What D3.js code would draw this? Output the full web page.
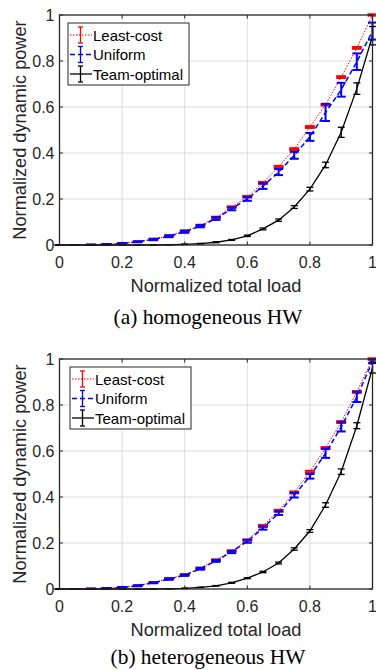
<!DOCTYPE html>
<html lang="en">

<head>
    <meta charset="UTF-8">
    <title>Normalized dynamic power</title>
    <script src="https://d3js.org/d3.v7.min.js"></script>
    <style>
        body {
            margin: 0;
            background: white;
        }

        .tick-label {
            font-family: "Liberation Sans", Arial, sans-serif;
            font-size: 16px;
            fill: #262626;
        }

        .axis-label {
            font-family: "Liberation Sans", Arial, sans-serif;
            font-size: 18.2px;
            fill: #262626;
        }

        .legend-label {
            font-family: "Liberation Sans", Arial, sans-serif;
            font-size: 15px;
            fill: #000;
        }

        .caption {
            font-family: "Liberation Serif", "Times New Roman", serif;
            font-size: 21.4px;
            fill: #000;
        }
    </style>
</head>

<body>
    <div id="chart"></div>

    <script>
        /*------------------- Data --------------------*/
        const loads = [0, 0.05, 0.1, 0.15, 0.2, 0.25, 0.3, 0.35, 0.4, 0.45, 0.5,
            0.55, 0.6, 0.65, 0.7, 0.75, 0.8, 0.85, 0.9, 0.95, 1];
        const xTicks = [0, 0.2, 0.4, 0.6, 0.8, 1];
        const yTicks = [0, 0.2, 0.4, 0.6, 0.8, 1];
        const tickLabels = ["0", "0.2", "0.4", "0.6", "0.8", "1"];
        const seriesNames = ["Least-cost", "Uniform", "Team-optimal"];

        // (a) homogeneous HW
        const leastA = [0, 0, 0.001, 0.003, 0.007, 0.015, 0.025, 0.04, 0.06, 0.085, 0.12,
            0.165, 0.21, 0.27, 0.34, 0.417, 0.513, 0.61, 0.73, 0.857, 1.0];
        const leastAErr = [0, 0, 0, 0, 0.001, 0.001, 0.002, 0.002, 0.002, 0.003, 0.003,
            0.003, 0.003, 0.004, 0.004, 0.004, 0.004, 0.004, 0.004, 0.004, 0.003];
        const uniformA = [0, 0, 0.001, 0.003, 0.007, 0.014, 0.024, 0.038, 0.058, 0.082, 0.115,
            0.157, 0.2, 0.256, 0.317, 0.39, 0.47, 0.576, 0.675, 0.797, 0.93];
        const uniformAErr = [0, 0, 0, 0.001, 0.001, 0.002, 0.003, 0.004, 0.005, 0.005, 0.006,
            0.006, 0.008, 0.012, 0.013, 0.015, 0.017, 0.037, 0.03, 0.036, 0.037];
        const teamA = [0, 0, 0, 0, 0, 0, 0, 0.001, 0.003, 0.006, 0.012,
            0.022, 0.04, 0.07, 0.108, 0.165, 0.243, 0.348, 0.49, 0.68, 0.91];
        const teamAErr = [0, 0, 0, 0, 0, 0, 0, 0, 0.001, 0.001, 0.002,
            0.002, 0.003, 0.004, 0.005, 0.006, 0.008, 0.012, 0.022, 0.025, 0.04];

        // (b) heterogeneous HW
        const leastB = [0, 0, 0.001, 0.003, 0.007, 0.015, 0.028, 0.045, 0.062, 0.09, 0.126,
            0.165, 0.213, 0.274, 0.34, 0.42, 0.51, 0.613, 0.726, 0.857, 1.0];
        const leastBErr = [0, 0, 0, 0, 0.001, 0.001, 0.002, 0.002, 0.002, 0.003, 0.003,
            0.003, 0.003, 0.004, 0.004, 0.004, 0.004, 0.004, 0.004, 0.004, 0.003];
        const uniformB = [0, 0, 0.001, 0.003, 0.007, 0.014, 0.027, 0.043, 0.06, 0.088, 0.122,
            0.161, 0.207, 0.265, 0.33, 0.408, 0.49, 0.59, 0.705, 0.835, 0.99];
        const uniformBErr = [0, 0, 0, 0.001, 0.001, 0.002, 0.002, 0.003, 0.003, 0.004, 0.004,
            0.005, 0.006, 0.007, 0.008, 0.01, 0.01, 0.02, 0.02, 0.022, 0.008];
        const teamB = [0, 0, 0, 0, 0, 0, 0, 0.001, 0.003, 0.007, 0.014,
            0.027, 0.047, 0.074, 0.113, 0.174, 0.252, 0.365, 0.51, 0.71, 0.963];
        const teamBErr = [0, 0, 0, 0, 0, 0, 0, 0, 0.001, 0.001, 0.001,
            0.002, 0.002, 0.003, 0.004, 0.005, 0.006, 0.01, 0.012, 0.013, 0.024];

        /*------------------- Styles --------------------*/
        const seriesStyles = [
            { color: "#ff0000", width: 1, dash: "1.5,1.5", barWidth: 2, cap: 5 },
            { color: "#0000ff", width: 1.5, dash: "5,3", barWidth: 2, cap: 4.5 },
            { color: "#000000", width: 1.3, dash: null, barWidth: 1.3, cap: 3.5 }
        ];

        const svgWidth = 376;
        const svgHeight = 670;

        const svg = d3.select("#chart").append("svg")
            .attr("width", svgWidth)
            .attr("height", svgHeight);

        const panels = [
            {
                top: 15, caption: "(a) homogeneous HW", captionY: 324, legendX: 68,
                series: [[leastA, leastAErr], [uniformA, uniformAErr], [teamA, teamAErr]]
            },
            {
                top: 359, caption: "(b) heterogeneous HW", captionY: 664, legendX: 70,
                series: [[leastB, leastBErr], [uniformB, uniformBErr], [teamB, teamBErr]]
            }
        ];

        const left = 59.5, right = 372.5, plotH = 230;

        function drawPanel(p) {
            const x = d3.scaleLinear().domain([0, 1]).range([left, right]);
            const y = d3.scaleLinear().domain([0, 1]).range([p.top + plotH, p.top]);
            const g = svg.append("g");

            // grid
            g.selectAll(".gx").data(xTicks.slice(1, -1)).enter().append("line")
                .attr("x1", d => x(d)).attr("x2", d => x(d))
                .attr("y1", y(0)).attr("y2", y(1))
                .attr("stroke", "#dcdcdc").attr("stroke-width", 1);
            g.selectAll(".gy").data(yTicks.slice(1, -1)).enter().append("line")
                .attr("x1", x(0)).attr("x2", x(1))
                .attr("y1", d => y(d)).attr("y2", d => y(d))
                .attr("stroke", "#dcdcdc").attr("stroke-width", 1);

            // series
            p.series.forEach((s, i) => {
                const st = seriesStyles[i];
                const vals = s[0], errs = s[1];
                const pts = loads.map((l, k) => ({ x: l, y: vals[k], e: errs[k] }));
                const line = d3.line().x(d => x(d.x)).y(d => y(d.y));
                g.append("path")
                    .datum(pts)
                    .attr("d", line)
                    .attr("fill", "none")
                    .attr("stroke", st.color)
                    .attr("stroke-width", st.width)
                    .attr("stroke-dasharray", st.dash);

                const bars = g.append("g")
                    .attr("stroke", st.color)
                    .attr("stroke-width", st.barWidth);
                bars.selectAll(".v").data(pts).enter().append("line")
                    .attr("x1", d => x(d.x)).attr("x2", d => x(d.x))
                    .attr("y1", d => y(d.y - d.e)).attr("y2", d => y(d.y + d.e));
                bars.selectAll(".ct").data(pts).enter().append("line")
                    .attr("x1", d => x(d.x) - st.cap).attr("x2", d => x(d.x) + st.cap)
                    .attr("y1", d => y(d.y + d.e)).attr("y2", d => y(d.y + d.e));
                bars.selectAll(".cb").data(pts).enter().append("line")
                    .attr("x1", d => x(d.x) - st.cap).attr("x2", d => x(d.x) + st.cap)
                    .attr("y1", d => y(d.y - d.e)).attr("y2", d => y(d.y - d.e));
            });

            // axes box and inward ticks
            g.append("rect")
                .attr("x", x(0)).attr("y", y(1))
                .attr("width", x(1) - x(0)).attr("height", y(0) - y(1))
                .attr("fill", "none").attr("stroke", "#262626").attr("stroke-width", 1.3);

            const tl = 3.5;
            xTicks.forEach(t => {
                g.append("line").attr("x1", x(t)).attr("x2", x(t))
                    .attr("y1", y(0)).attr("y2", y(0) - tl).attr("stroke", "#262626");
                g.append("line").attr("x1", x(t)).attr("x2", x(t))
                    .attr("y1", y(1)).attr("y2", y(1) + tl).attr("stroke", "#262626");
            });
            yTicks.forEach(t => {
                g.append("line").attr("x1", x(0)).attr("x2", x(0) + tl)
                    .attr("y1", y(t)).attr("y2", y(t)).attr("stroke", "#262626");
                g.append("line").attr("x1", x(1)).attr("x2", x(1) - tl)
                    .attr("y1", y(t)).attr("y2", y(t)).attr("stroke", "#262626");
            });

            // tick labels
            g.selectAll(".xl").data(xTicks).enter().append("text")
                .attr("class", "tick-label")
                .attr("x", d => x(d)).attr("y", y(0) + 23)
                .attr("text-anchor", "middle")
                .text((d, i) => tickLabels[i]);
            g.selectAll(".yl").data(yTicks).enter().append("text")
                .attr("class", "tick-label")
                .attr("x", x(0) - 5).attr("y", d => y(d) + 6)
                .attr("text-anchor", "end")
                .text((d, i) => tickLabels[i]);

            // axis labels
            g.append("text").attr("class", "axis-label")
                .attr("x", (x(0) + x(1)) / 2).attr("y", y(0) + 47)
                .attr("text-anchor", "middle")
                .text("Normalized total load");
            g.append("text").attr("class", "axis-label")
                .attr("transform", `translate(26,${(y(0) + y(1)) / 2}) rotate(-90)`)
                .attr("text-anchor", "middle")
                .text("Normalized dynamic power");

            // caption
            g.append("text").attr("class", "caption")
                .attr("x", 208).attr("y", p.captionY)
                .attr("text-anchor", "middle")
                .text(p.caption);

            // legend
            const lg = g.append("g").attr("transform", `translate(${p.legendX},${p.top + 8})`);
            lg.append("rect")
                .attr("width", 121).attr("height", 62)
                .attr("fill", "white").attr("stroke", "#262626").attr("stroke-width", 1);
            seriesNames.forEach((name, i) => {
                const st = seriesStyles[i];
                const cy = 12 + i * 19.5;
                lg.append("line").attr("x1", 2).attr("x2", 24)
                    .attr("y1", cy).attr("y2", cy)
                    .attr("stroke", st.color).attr("stroke-width", st.width)
                    .attr("stroke-dasharray", st.dash);
                lg.append("line").attr("x1", 12.5).attr("x2", 12.5)
                    .attr("y1", cy - 8).attr("y2", cy + 8)
                    .attr("stroke", st.color).attr("stroke-width", 1.3);
                [cy - 8, cy + 8].forEach(cv => {
                    lg.append("line").attr("x1", 10).attr("x2", 15)
                        .attr("y1", cv).attr("y2", cv)
                        .attr("stroke", st.color).attr("stroke-width", 1.3);
                });
                lg.append("text").attr("class", "legend-label")
                    .attr("x", 25).attr("y", cy + 5.5)
                    .text(name);
            });
        }

        panels.forEach(drawPanel);
    </script>
</body>

</html>
